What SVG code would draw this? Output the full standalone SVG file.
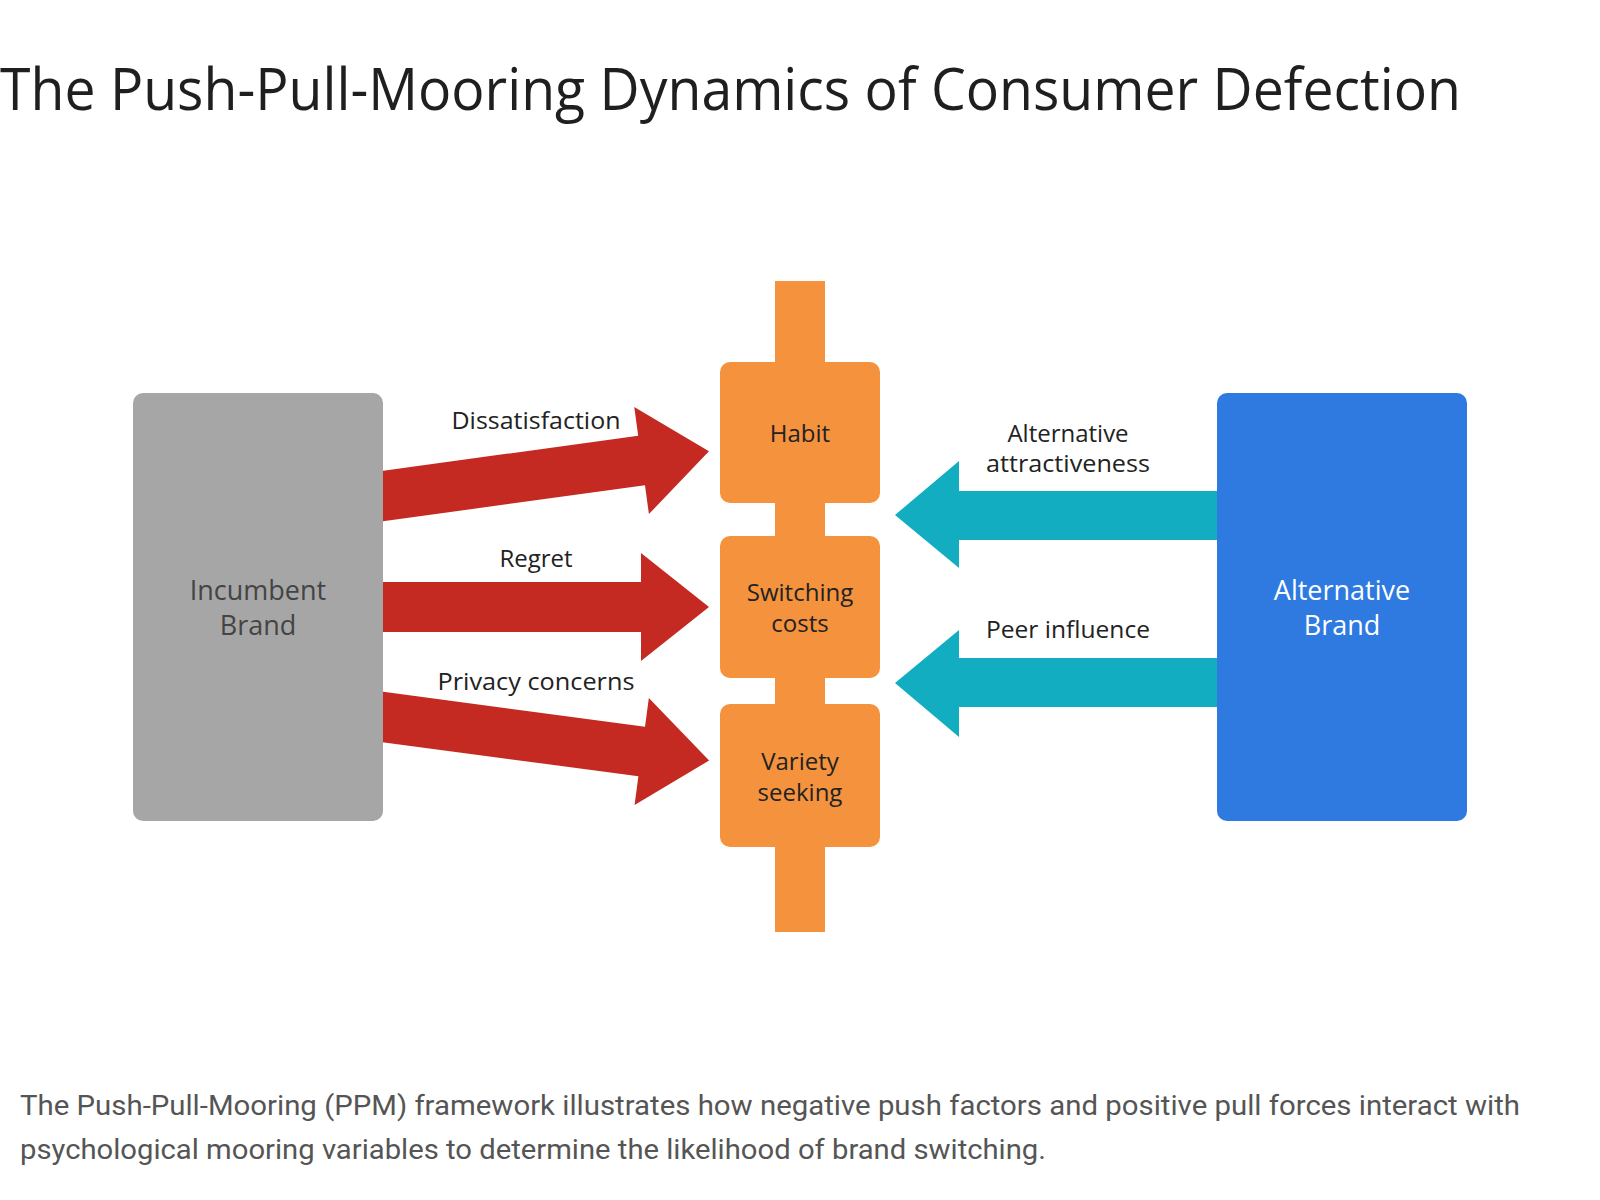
<svg xmlns="http://www.w3.org/2000/svg" width="1600" height="1200" viewBox="0 0 1600 1200">
<style>
.lbl{font-family:"Open Sans","Liberation Sans",sans-serif;font-size:24px;fill:#222;text-anchor:middle}
.node{font-family:"Open Sans","Liberation Sans",sans-serif;font-size:27px;text-anchor:middle}
.push{fill:#c42a22}
.pull{fill:#13adc1}
.moor{fill:#f5923e}
</style>
<rect width="1600" height="1200" fill="#ffffff"/>
<text x="0" y="110" font-family="'Open Sans','Liberation Sans',sans-serif" font-size="58" fill="#1f1f1f" textLength="1461" lengthAdjust="spacingAndGlyphs">The Push-Pull-Mooring Dynamics of Consumer Defection</text>
<g id="connectors">
<path class="push" transform="translate(383,496) rotate(-7.8)" d="M-20,-25 H261 V-54 L329,0 L261,54 V25 H-20 Z"/>
<path class="push" transform="translate(383,607)" d="M-20,-25 H258 V-54 L326,0 L258,54 V25 H-20 Z"/>
<path class="push" transform="translate(383,717) rotate(7.6)" d="M-20,-25 H261 V-54 L329,0 L261,54 V25 H-20 Z"/>
<path class="pull" d="M1230,491 H959 V461 L895,515 L959,568 V540 H1230 Z"/>
<path class="pull" d="M1230,658 H959 V630 L895,683 L959,737 V707 H1230 Z"/>
<text class="lbl" x="536" y="429" textLength="169" lengthAdjust="spacingAndGlyphs">Dissatisfaction</text>
<text class="lbl" x="536" y="567">Regret</text>
<text class="lbl" x="536" y="690" textLength="197" lengthAdjust="spacingAndGlyphs">Privacy concerns</text>
<text class="lbl" x="1068" y="442">Alternative</text>
<text class="lbl" x="1068" y="472" textLength="164" lengthAdjust="spacingAndGlyphs">attractiveness</text>
<text class="lbl" x="1068" y="638" textLength="164" lengthAdjust="spacingAndGlyphs">Peer influence</text>
</g>
<g id="incumbent">
<rect x="133" y="393" width="250" height="428" rx="10" fill="#a6a6a6"/>
<text class="node" x="258" y="600" fill="#444">Incumbent</text>
<text class="node" x="258" y="635" fill="#444">Brand</text>
</g>
<g id="mooring-bar">
<rect class="moor" x="775" y="281" width="50" height="651"/>
</g>
<g id="habit">
<rect class="moor" x="720" y="362" width="160" height="141" rx="10"/>
<text class="lbl" x="800" y="442">Habit</text>
</g>
<g id="switching">
<rect class="moor" x="720" y="536" width="160" height="142" rx="10"/>
<text class="lbl" x="800" y="601">Switching</text>
<text class="lbl" x="800" y="632">costs</text>
</g>
<g id="variety">
<rect class="moor" x="720" y="704" width="160" height="143" rx="10"/>
<text class="lbl" x="800" y="770">Variety</text>
<text class="lbl" x="800" y="801">seeking</text>
</g>
<g id="alternative">
<rect x="1217" y="393" width="250" height="428" rx="10" fill="#2e7ae0"/>
<text class="node" x="1342" y="600" fill="#ffffff">Alternative</text>
<text class="node" x="1342" y="635" fill="#ffffff">Brand</text>
</g>
<g id="caption" font-family="Roboto,'Liberation Sans',sans-serif" font-size="27" fill="#555">
<text x="20" y="1115" textLength="1500" lengthAdjust="spacingAndGlyphs">The Push-Pull-Mooring (PPM) framework illustrates how negative push factors and positive pull forces interact with</text>
<text x="20" y="1159" textLength="1026" lengthAdjust="spacingAndGlyphs">psychological mooring variables to determine the likelihood of brand switching.</text>
</g>
</svg>
